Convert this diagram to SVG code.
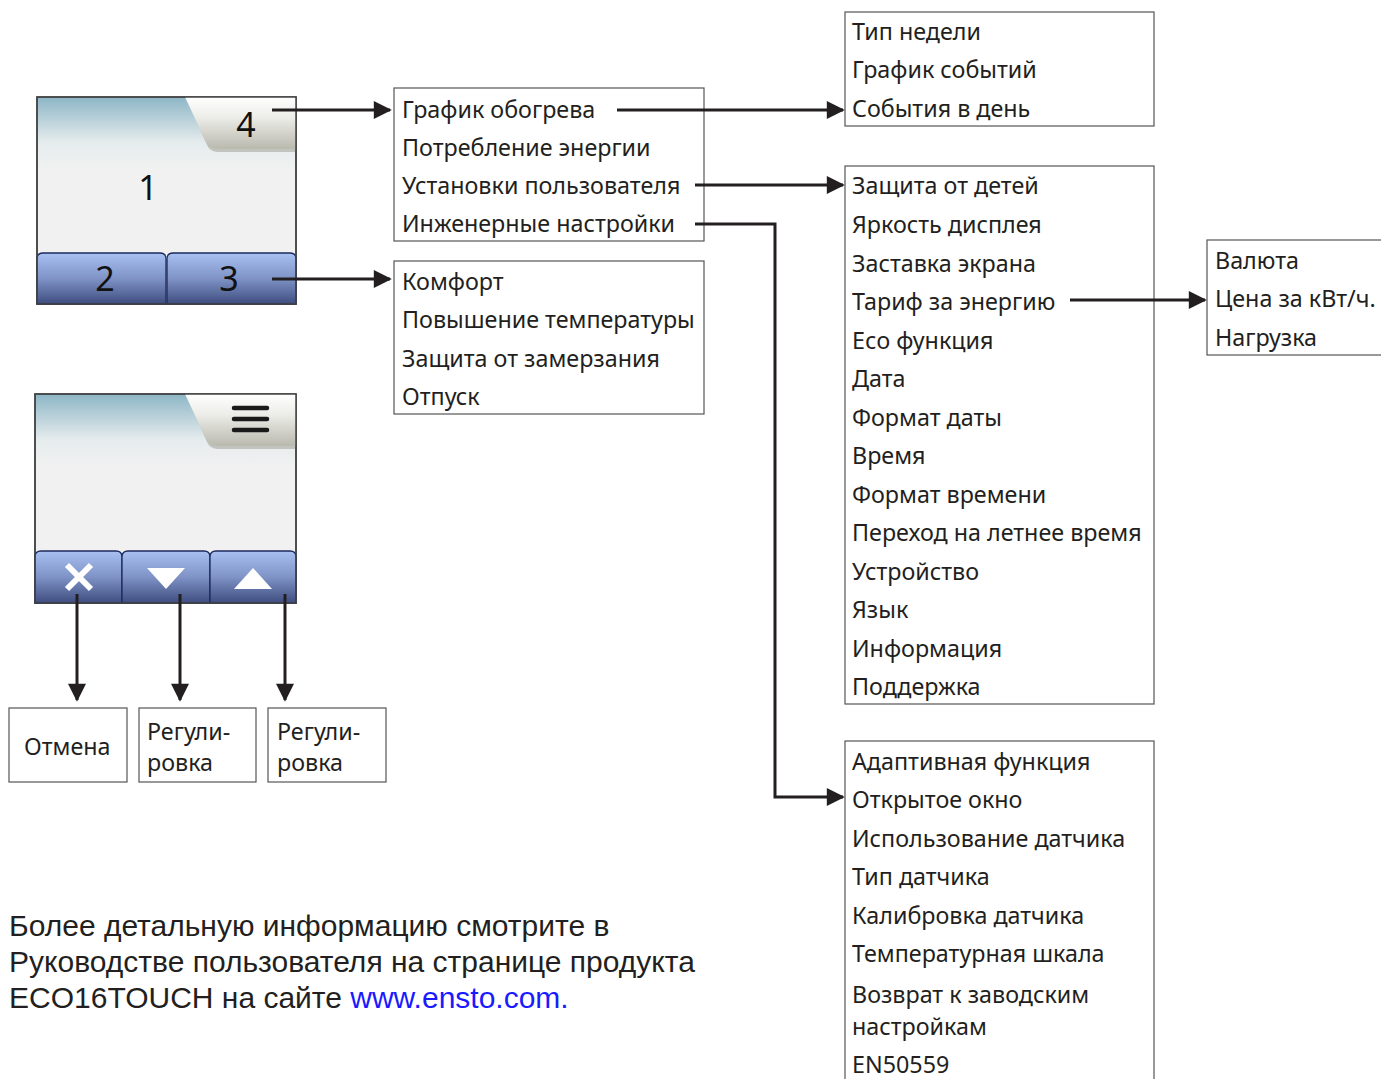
<svg xmlns="http://www.w3.org/2000/svg" width="1381" height="1079" viewBox="0 0 1381 1079">
<defs>
<linearGradient id="scr" x1="0" y1="0" x2="0" y2="1">
<stop offset="0" stop-color="#8db6c6"/><stop offset="0.22" stop-color="#e6eced"/><stop offset="0.35" stop-color="#f1f1f1"/><stop offset="1" stop-color="#f1f1f1"/>
</linearGradient>
<linearGradient id="tab" x1="0" y1="0" x2="0" y2="1">
<stop offset="0" stop-color="#ffffff"/><stop offset="0.4" stop-color="#ecece8"/><stop offset="1" stop-color="#b9b9ae"/>
</linearGradient>
<linearGradient id="btn" x1="0" y1="0" x2="0" y2="1">
<stop offset="0" stop-color="#a8c0f2"/><stop offset="0.5" stop-color="#7f93c6"/><stop offset="1" stop-color="#3f4d80"/>
</linearGradient>
<marker id="ah" viewBox="0 0 10 10" refX="9" refY="5" markerWidth="8" markerHeight="6" markerUnits="strokeWidth" orient="auto">
<path d="M0,0 L10,5 L0,10 Z" fill="#231f20"/>
</marker>
</defs>
<style>
.box{fill:#fff;stroke:#555;stroke-width:1.2}
.t{font-family:"Noto Sans","Open Sans",sans-serif;font-size:23.3px;fill:#231f20}
.n{font-family:"Noto Sans","Open Sans",sans-serif;font-size:34px;fill:#111;text-anchor:middle}
.c{fill:none;stroke:#231f20;stroke-width:3}
.b{fill:url(#btn);stroke:#1c2a5c;stroke-width:1.3}
.f{font-family:"Liberation Sans",Arial,sans-serif;font-size:30px;fill:#231f20}
</style>

<g id="device1">
<rect x="37" y="97" width="259" height="207" fill="url(#scr)" stroke="#444" stroke-width="1.5"/>
<path d="M186,97 L296,97 L296,152 L218,152 Q210,152 207,145 Z" fill="#9a9a90" opacity="0.5"/>
<path d="M185,97 L296,97 L296,149 L217,149 Q209,149 206,142 Z" fill="url(#tab)"/>
<text class="n" x="246" y="137">4</text>
<text class="n" x="148" y="200">1</text>
<path class="b" d="M37,304 L37,259 Q37,253 43,253 L160,253 Q166,253 166,259 L166,304 Z"/>
<path class="b" d="M167,304 L167,259 Q167,253 173,253 L290,253 Q296,253 296,259 L296,304 Z"/>
<text class="n" x="105" y="291">2</text>
<text class="n" x="229" y="291">3</text>
<rect x="37" y="97" width="259" height="207" fill="none" stroke="#444" stroke-width="1.5"/>
</g>

<g id="device2">
<rect x="35" y="394" width="261" height="209" fill="url(#scr)" stroke="#444" stroke-width="1.5"/>
<path d="M186,394 L296,394 L296,449 L218,449 Q210,449 207,442 Z" fill="#9a9a90" opacity="0.5"/>
<path d="M185,394 L296,394 L296,446 L217,446 Q209,446 206,439 Z" fill="url(#tab)"/>
<g stroke="#1a1a1a" stroke-width="4.5" stroke-linecap="round">
<line x1="234" y1="408" x2="267" y2="408"/><line x1="234" y1="419" x2="267" y2="419"/><line x1="234" y1="430" x2="267" y2="430"/>
</g>
<path class="b" d="M35,603 L35,557 Q35,551 41,551 L116,551 Q122,551 122,557 L122,603 Z"/>
<path class="b" d="M122,603 L122,557 Q122,551 128,551 L204,551 Q210,551 210,557 L210,603 Z"/>
<path class="b" d="M210,603 L210,557 Q210,551 216,551 L290,551 Q296,551 296,557 L296,603 Z"/>
<g stroke="#fff" stroke-width="6"><line x1="67" y1="565" x2="91" y2="589"/><line x1="91" y1="565" x2="67" y2="589"/></g>
<path d="M147,568 L185,568 L166,589 Z" fill="#fff"/>
<path d="M234,589 L272,589 L253,568 Z" fill="#fff"/>
<rect x="35" y="394" width="261" height="209" fill="none" stroke="#444" stroke-width="1.5"/>
</g>

<g id="cancel"><rect class="box" x="9" y="708" width="118" height="74"/><text class="t" x="24" y="755">Отмена</text></g>
<g id="adjust1"><rect class="box" x="139" y="708" width="117" height="74"/><text class="t" x="147" y="740">Регули-</text><text class="t" x="147" y="771">ровка</text></g>
<g id="adjust2"><rect class="box" x="268" y="708" width="118" height="74"/><text class="t" x="277" y="740">Регули-</text><text class="t" x="277" y="771">ровка</text></g>

<g id="menuA"><rect class="box" x="394" y="88" width="310" height="153"/>
<text class="t" x="402" y="118">График обогрева</text>
<text class="t" x="402" y="156">Потребление энергии</text>
<text class="t" x="402" y="194">Установки пользователя</text>
<text class="t" x="402" y="232">Инженерные настройки</text></g>

<g id="menuB"><rect class="box" x="394" y="261" width="310" height="153"/>
<text class="t" x="402" y="290">Комфорт</text>
<text class="t" x="402" y="328">Повышение температуры</text>
<text class="t" x="402" y="367">Защита от замерзания</text>
<text class="t" x="402" y="405">Отпуск</text></g>

<g id="menuC"><rect class="box" x="845" y="12" width="309" height="114"/>
<text class="t" x="852" y="40">Тип недели</text>
<text class="t" x="852" y="78">График событий</text>
<text class="t" x="852" y="117">События в день</text></g>

<g id="menuD"><rect class="box" x="845" y="166" width="309" height="538"/>
<text class="t" x="852" y="194">Защита от детей</text>
<text class="t" x="852" y="233">Яркость дисплея</text>
<text class="t" x="852" y="272">Заставка экрана</text>
<text class="t" x="852" y="310">Тариф за энергию</text>
<text class="t" x="852" y="349">Eco функция</text>
<text class="t" x="852" y="387">Дата</text>
<text class="t" x="852" y="426">Формат даты</text>
<text class="t" x="852" y="464">Время</text>
<text class="t" x="852" y="503">Формат времени</text>
<text class="t" x="852" y="541">Переход на летнее время</text>
<text class="t" x="852" y="580">Устройство</text>
<text class="t" x="852" y="618">Язык</text>
<text class="t" x="852" y="657">Информация</text>
<text class="t" x="852" y="695">Поддержка</text></g>

<g id="menuE"><rect class="box" x="1207" y="240" width="190" height="115"/>
<text class="t" x="1215" y="269">Валюта</text>
<text class="t" x="1215" y="307">Цена за кВт/ч.</text>
<text class="t" x="1215" y="346">Нагрузка</text></g>

<g id="menuF"><rect class="box" x="845" y="741" width="309" height="360"/>
<text class="t" x="852" y="770">Адаптивная функция</text>
<text class="t" x="852" y="808">Открытое окно</text>
<text class="t" x="852" y="847">Использование датчика</text>
<text class="t" x="852" y="885">Тип датчика</text>
<text class="t" x="852" y="924">Калибровка датчика</text>
<text class="t" x="852" y="962">Температурная шкала</text>
<text class="t" x="852" y="1003">Возврат к заводским</text>
<text class="t" x="852" y="1035">настройкам</text>
<text class="t" x="852" y="1073">EN50559</text></g>

<g id="connectors">
<line class="c" x1="272" y1="110" x2="390" y2="110" marker-end="url(#ah)"/>
<line class="c" x1="272" y1="279" x2="390" y2="279" marker-end="url(#ah)"/>
<line class="c" x1="617" y1="110" x2="843" y2="110" marker-end="url(#ah)"/>
<line class="c" x1="695" y1="185" x2="843" y2="185" marker-end="url(#ah)"/>
<polyline class="c" points="695,224 775,224 775,797 843,797" marker-end="url(#ah)"/>
<line class="c" x1="1070" y1="300" x2="1205" y2="300" marker-end="url(#ah)"/>
<line class="c" x1="77" y1="594" x2="77" y2="700" marker-end="url(#ah)"/>
<line class="c" x1="180" y1="594" x2="180" y2="700" marker-end="url(#ah)"/>
<line class="c" x1="285" y1="594" x2="285" y2="700" marker-end="url(#ah)"/>
</g>

<g id="note">
<text class="f" x="9" y="936">Более детальную информацию смотрите в</text>
<text class="f" x="9" y="972">Руководстве пользователя на странице продукта</text>
<text class="f" x="9" y="1008">ECO16TOUCH на сайте <tspan fill="#1a1aff">www.ensto.com.</tspan></text>
</g>
</svg>
